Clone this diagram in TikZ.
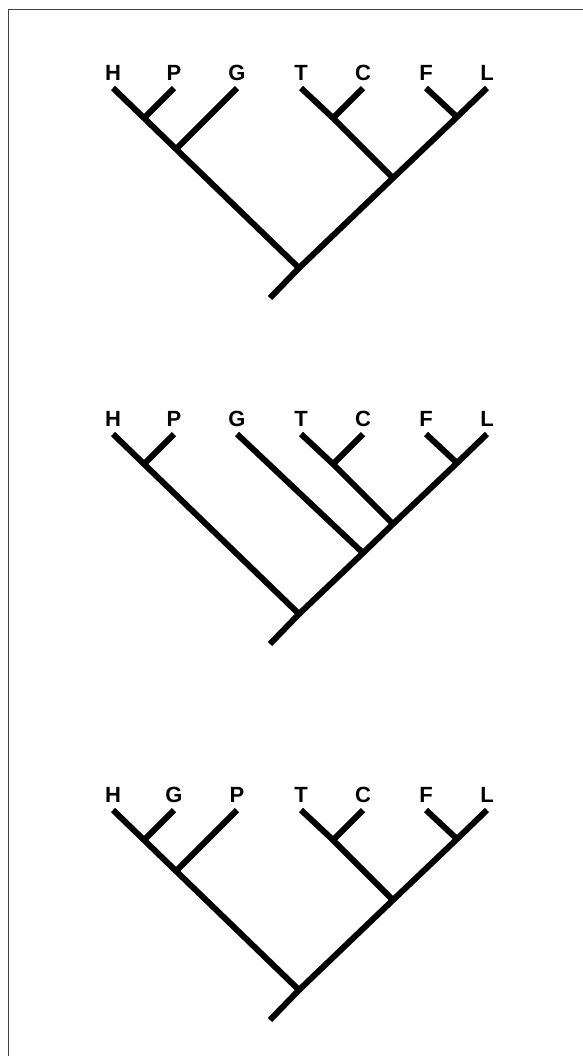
\documentclass[tikz,border=0pt]{standalone}
\usepackage{fontspec}
\setmainfont{Liberation Sans}
\usetikzlibrary{positioning}

\begin{document}
\begin{tikzpicture}[
    x=0.5pt, y=-0.5pt,
    branch/.style={line width=3pt},
    taxon/.style={font=\fontsize{11}{13}\selectfont\bfseries, inner sep=0pt},
    frameline/.style={line width=0.5pt, black!75}
]
\useasboundingbox (0,0) rectangle (583,1056);
\draw[frameline] (8.5,1056) -- (8.5,9.5) -- (583,9.5);

% tree 1: ((H,P),G),((T,C),(F,L))
\begin{scope}
\coordinate (aH) at (113,88);
\coordinate (aP) at (174,88);
\coordinate (aG) at (237,88);
\coordinate (aT) at (301,88);
\coordinate (aC) at (363,88);
\coordinate (aF) at (426,88);
\coordinate (aL) at (487,88);
\coordinate (ahp) at (144,118);
\coordinate (ahpg) at (176,149);
\coordinate (atc) at (333,118);
\coordinate (afl) at (457,117);
\coordinate (atcfl) at (393,178);
\coordinate (aroot) at (299,268);
\coordinate (astem) at (270,298);

\node[taxon, above=3.5pt of aH] (aHl) {H};
\node[taxon, above=3.5pt of aP] (aPl) {P};
\node[taxon, above=3.5pt of aG] (aGl) {G};
\node[taxon, above=3.5pt of aT] (aTl) {T};
\node[taxon, above=3.5pt of aC] (aCl) {C};
\node[taxon, above=3.5pt of aF] (aFl) {F};
\node[taxon, above=3.5pt of aL] (aLl) {L};

\draw[branch] (aH) -- (ahp) -- (ahpg) -- (aroot);
\draw[branch] (aP) -- (ahp);
\draw[branch] (aG) -- (ahpg);
\draw[branch] (aT) -- (atc) -- (atcfl);
\draw[branch] (aC) -- (atc);
\draw[branch] (aF) -- (afl);
\draw[branch] (aL) -- (afl) -- (atcfl) -- (aroot) -- (astem);
\end{scope}

% tree 2: (H,P),(G,((T,C),(F,L)))
\begin{scope}[shift={(0,346)}]
\coordinate (bH) at (113,88);
\coordinate (bP) at (174,88);
\coordinate (bG) at (237,88);
\coordinate (bT) at (301,88);
\coordinate (bC) at (363,88);
\coordinate (bF) at (426,88);
\coordinate (bL) at (487,88);
\coordinate (bhp) at (144,118);
\coordinate (btc) at (333,118);
\coordinate (bfl) at (457,117);
\coordinate (btcfl) at (393,178);
\coordinate (bgt) at (363,207);
\coordinate (broot) at (299,268);
\coordinate (bstem) at (270,298);

\node[taxon, above=3.5pt of bH] (bHl) {H};
\node[taxon, above=3.5pt of bP] (bPl) {P};
\node[taxon, above=3.5pt of bG] (bGl) {G};
\node[taxon, above=3.5pt of bT] (bTl) {T};
\node[taxon, above=3.5pt of bC] (bCl) {C};
\node[taxon, above=3.5pt of bF] (bFl) {F};
\node[taxon, above=3.5pt of bL] (bLl) {L};

\draw[branch] (bH) -- (bhp) -- (broot);
\draw[branch] (bP) -- (bhp);
\draw[branch] (bG) -- (bgt);
\draw[branch] (bT) -- (btc) -- (btcfl);
\draw[branch] (bC) -- (btc);
\draw[branch] (bF) -- (bfl);
\draw[branch] (bL) -- (bfl) -- (btcfl) -- (bgt) -- (broot) -- (bstem);
\end{scope}

% tree 3: ((H,G),P),((T,C),(F,L))
\begin{scope}[shift={(0,722)}]
\coordinate (cH) at (113,88);
\coordinate (cG) at (174,88);
\coordinate (cP) at (237,88);
\coordinate (cT) at (301,88);
\coordinate (cC) at (363,88);
\coordinate (cF) at (426,88);
\coordinate (cL) at (487,88);
\coordinate (chg) at (144,118);
\coordinate (chgp) at (176,149);
\coordinate (ctc) at (333,118);
\coordinate (cfl) at (457,117);
\coordinate (ctcfl) at (393,178);
\coordinate (croot) at (299,268);
\coordinate (cstem) at (270,298);

\node[taxon, above=3.5pt of cH] (cHl) {H};
\node[taxon, above=3.5pt of cG] (cGl) {G};
\node[taxon, above=3.5pt of cP] (cPl) {P};
\node[taxon, above=3.5pt of cT] (cTl) {T};
\node[taxon, above=3.5pt of cC] (cCl) {C};
\node[taxon, above=3.5pt of cF] (cFl) {F};
\node[taxon, above=3.5pt of cL] (cLl) {L};

\draw[branch] (cH) -- (chg) -- (chgp) -- (croot);
\draw[branch] (cG) -- (chg);
\draw[branch] (cP) -- (chgp);
\draw[branch] (cT) -- (ctc) -- (ctcfl);
\draw[branch] (cC) -- (ctc);
\draw[branch] (cF) -- (cfl);
\draw[branch] (cL) -- (cfl) -- (ctcfl) -- (croot) -- (cstem);
\end{scope}
\end{tikzpicture}
\end{document}
